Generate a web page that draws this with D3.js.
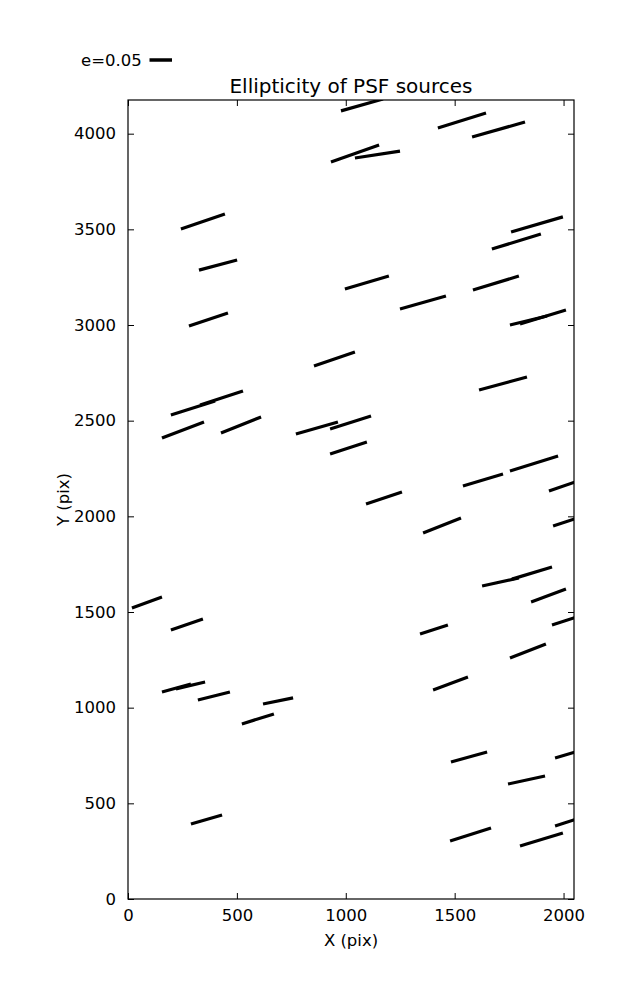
<!DOCTYPE html>
<html>
<head>
<meta charset="utf-8">
<script src="https://cdn.jsdelivr.net/npm/d3@7"></script>
<style>
  body { margin: 0; background: #fff; }
  text { font-family: "DejaVu Sans", sans-serif; fill: #000; }
</style>
</head>
<body>
<svg id="chart" width="637" height="1000"></svg>
<script>
// ---- data (X/Y in pix) : whisker endpoints of PSF ellipticity ----
const xStart = [978, 1423, 1580, 932, 1042, 243, 326, 1759, 1671, 996, 1584, 1249, 280, 854, 1754, 1800, 1612, 197, 331, 156, 427, 771, 928, 928, 1538, 1754, 1933, 1093, 1355, 1952, 1626, 1763, 1851, 1947, 1341, 1754, 1401, 18, 197, 156, 220, 321, 620, 523, 289, 1483, 1745, 1961, 1479, 1800, 1961];
const yStart = [4119, 4030, 3983, 3852, 3873, 3502, 3287, 3486, 3397, 3188, 3183, 3084, 2995, 2786, 3000, 3005, 2660, 2530, 2582, 2409, 2436, 2430, 2456, 2326, 2159, 2237, 2132, 2064, 1913, 1950, 1636, 1672, 1552, 1432, 1385, 1260, 1092, 1521, 1406, 1082, 1098, 1040, 1019, 915, 392, 716, 601, 737, 303, 277, 382];
const xEnd   = [1171, 1644, 1823, 1153, 1249, 445, 501, 1997, 1896, 1198, 1795, 1460, 459, 1042, 1924, 2011, 1832, 400, 528, 349, 611, 964, 1116, 1097, 1722, 1975, 2121, 1258, 1529, 2135, 1795, 1947, 2011, 2131, 1469, 1919, 1561, 156, 344, 289, 354, 468, 758, 670, 432, 1649, 1915, 2131, 1667, 1997, 2131];
const yEnd   = [4181, 4108, 4061, 3941, 3909, 3580, 3340, 3565, 3476, 3256, 3256, 3152, 3063, 2859, 3047, 3078, 2728, 2603, 2655, 2493, 2519, 2493, 2524, 2389, 2221, 2315, 2206, 2127, 1991, 2017, 1678, 1735, 1620, 1500, 1432, 1333, 1160, 1578, 1463, 1124, 1134, 1082, 1051, 967, 439, 768, 643, 794, 371, 345, 444];

const xTicks = [0, 500, 1000, 1500, 2000];
const yTicks = [0, 500, 1000, 1500, 2000, 2500, 3000, 3500, 4000];
const xDomain = [0, 2048];
const yDomain = [0, 4176];
const legendE = 0.05;
const legendLabel = "e=0.05";
const title = "Ellipticity of PSF sources";
const xLabel = "X (pix)";
const yLabel = "Y (pix)";

// ---- layout ----
const L = 128, R = 574, T = 100, B = 899;
const svg = d3.select("#chart");
const x = d3.scaleLinear().domain(xDomain).range([L, R]);
const y = d3.scaleLinear().domain(yDomain).range([B, T]);

svg.append("defs").append("clipPath").attr("id", "plotclip")
  .append("rect").attr("x", L).attr("y", T).attr("width", R - L).attr("height", B - T);

// whiskers
const segs = xStart.map((d, i) => ({ x1: d, y1: yStart[i], x2: xEnd[i], y2: yEnd[i] }));
svg.append("g").attr("clip-path", "url(#plotclip)")
  .selectAll("line").data(segs).join("line")
  .attr("x1", d => x(d.x1)).attr("y1", d => y(d.y1))
  .attr("x2", d => x(d.x2)).attr("y2", d => y(d.y2))
  .attr("stroke", "#000").attr("stroke-width", 3.2);

// axes (inward ticks on all sides)
const fs = "16.5px";
const tickLen = 6;
const axB = d3.axisBottom(x).tickValues(xTicks).tickSizeInner(-tickLen).tickSizeOuter(0).tickPadding(10).tickFormat(d3.format("d"));
const axT = d3.axisTop(x).tickValues(xTicks).tickSizeInner(-tickLen).tickSizeOuter(0).tickFormat("");
const axL = d3.axisLeft(y).tickValues(yTicks).tickSizeInner(-tickLen).tickSizeOuter(0).tickPadding(12).tickFormat(d3.format("d"));
const axR = d3.axisRight(y).tickValues(yTicks).tickSizeInner(-tickLen).tickSizeOuter(0).tickFormat("");

function style(g) {
  g.select(".domain").remove();
  g.selectAll(".tick line").attr("stroke", "#000").attr("stroke-width", 1);
  g.selectAll(".tick text").style("font-size", fs).attr("fill", "#000").style("font-family", "DejaVu Sans");
}
svg.append("g").attr("transform", `translate(0,${B})`).call(axB).call(style);
svg.append("g").attr("transform", `translate(0,${T})`).call(axT).call(style);
svg.append("g").attr("transform", `translate(${L},0)`).call(axL).call(style);
svg.append("g").attr("transform", `translate(${R},0)`).call(axR).call(style);

// frame
svg.append("rect").attr("x", L).attr("y", T).attr("width", R - L).attr("height", B - T)
  .attr("fill", "none").attr("stroke", "#000").attr("stroke-width", 1.2);

// labels
svg.append("text").attr("x", (L + R) / 2).attr("y", 946).attr("text-anchor", "middle")
  .style("font-size", fs).text(xLabel);
svg.append("text").attr("transform", `translate(69,${(T + B) / 2}) rotate(-90)`).attr("text-anchor", "middle")
  .style("font-size", fs).text(yLabel);
svg.append("text").attr("x", (L + R) / 2).attr("y", 93).attr("text-anchor", "middle")
  .style("font-size", "20px").text(title);

// legend
const pxPerE = 22.5 / 0.05;
svg.append("text").attr("x", 81).attr("y", 66).style("font-size", fs).text(legendLabel);
svg.append("line").attr("x1", 149.5).attr("x2", 149.5 + legendE * pxPerE)
  .attr("y1", 60).attr("y2", 60).attr("stroke", "#000").attr("stroke-width", 3.5);
</script>
</body>
</html>
